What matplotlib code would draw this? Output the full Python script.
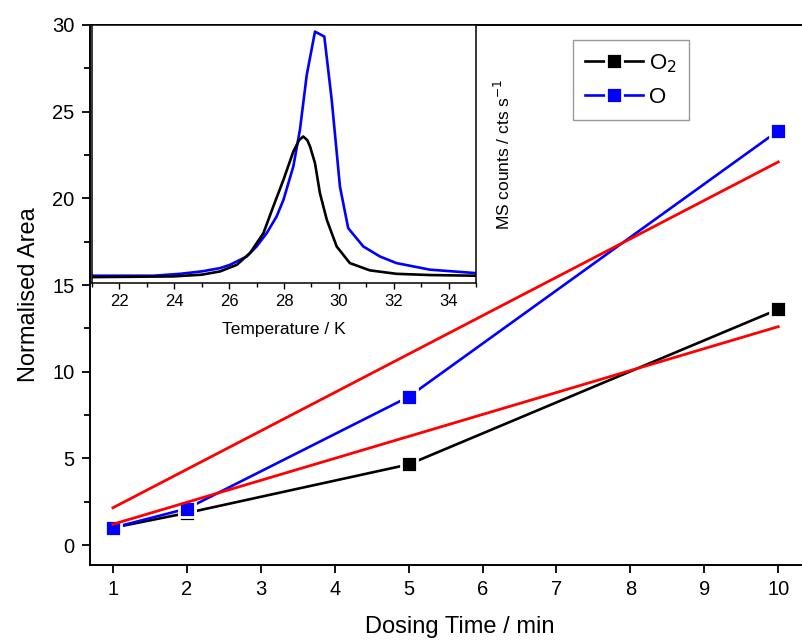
import matplotlib
matplotlib.use("Agg")
import matplotlib.pyplot as plt
from matplotlib.ticker import MultipleLocator, FixedLocator

plt.rcParams['font.family'] = ['Liberation Sans', 'DejaVu Sans']

# Main panel data
dose_time = [1, 2, 5, 10]
area_o2 = [1.0, 1.85, 4.65, 13.6]
area_o = [1.0, 2.1, 8.55, 23.9]
fit_x = [1, 10]
fit_o = [2.15, 22.1]
fit_o2 = [1.2, 12.6]
x_ticks = [1, 2, 3, 4, 5, 6, 7, 8, 9, 10]

# Inset data (TPD traces)
temp_o = [21.0, 23.24, 24.21, 25.0, 25.67, 26.03, 26.64, 27.0, 27.37, 27.73,
          27.98, 28.34, 28.58, 28.83, 29.13, 29.47, 29.74, 30.04, 30.34, 30.89,
          31.5, 32.1, 33.32, 35.0]
counts_o = [15.52, 15.52, 15.63, 15.77, 15.96, 16.15, 16.63, 17.21, 17.98, 18.94,
            19.9, 21.83, 23.94, 27.12, 29.62, 29.33, 25.67, 20.67, 18.27, 17.21,
            16.63, 16.25, 15.87, 15.67]
temp_o2 = [21.0, 23.97, 25.0, 25.67, 26.28, 26.76, 27.25, 27.61, 27.98, 28.34,
           28.55, 28.70, 28.85, 28.95, 29.13, 29.31, 29.56, 29.92, 30.4, 31.13,
           32.1, 33.32, 35.0]
counts_o2 = [15.44, 15.48, 15.58, 15.77, 16.15, 16.83, 17.98, 19.52, 21.06, 22.69,
             23.35, 23.56, 23.35, 22.98, 22.02, 20.29, 18.75, 17.21, 16.25, 15.83,
             15.63, 15.56, 15.52]

W, H = 803, 643
fig = plt.figure(figsize=(W / 100, H / 100), dpi=100)

# main axes in pixel coordinates
L, R, T, B = 90, 830, 25, 565
ax = fig.add_axes([L / W, 1 - B / H, (R - L) / W, (B - T) / H])
ax.set_xlim(0.69, 10.70)
ax.set_ylim(-1.15, 30)

line_kw = dict(lw=1.9, marker='s', ms=11, mec='white', mew=2.0, clip_on=False)
ax.plot(dose_time, area_o2, color='black', mfc='black', label='O$_2$', zorder=3, **line_kw)
ax.plot(dose_time, area_o, color='#0000ff', mfc='#0000ff', label='O', zorder=3, **line_kw)
ax.plot(fit_x, fit_o, color='#ff0000', lw=2.0, zorder=4)
ax.plot(fit_x, fit_o2, color='#ff0000', lw=2.0, zorder=4)

ax.xaxis.set_major_locator(FixedLocator(x_ticks))
ax.yaxis.set_major_locator(MultipleLocator(5))
ax.yaxis.set_minor_locator(MultipleLocator(2.5))
ax.tick_params(axis='both', which='major', direction='out', length=6, width=1.3,
               labelsize=14.5, pad=5)
ax.tick_params(axis='y', which='minor', direction='out', length=4, width=1.3)
for s in ['left', 'bottom', 'top', 'right']:
    ax.spines[s].set_linewidth(1.4)
ax.set_xlabel('Dosing Time / min', fontsize=17, labelpad=12)
ax.set_ylabel('Normalised Area', fontsize=17, labelpad=9)

leg = fig.legend(loc='upper left', bbox_to_anchor=(573 / W, 1 - 40 / H),
                 fontsize=16, frameon=True, fancybox=False, edgecolor='#808080',
                 handlelength=2.6, handletextpad=0.25, borderpad=0.55,
                 labelspacing=0.55, borderaxespad=0)
leg.get_frame().set_linewidth(1.0)

# inset
iL, iR, iT, iB = 92, 476, 25, 283
axi = fig.add_axes([iL / W, 1 - iB / H, (iR - iL) / W, (iB - iT) / H])
axi.set_facecolor('white')
axi.plot(temp_o, counts_o, color='#0000ff', lw=1.9)
axi.plot(temp_o2, counts_o2, color='black', lw=1.9)
axi.set_xlim(21, 35)
axi.set_ylim(15.1, 30)
axi.xaxis.set_major_locator(MultipleLocator(2))
axi.xaxis.set_minor_locator(MultipleLocator(1))
axi.set_yticks([])
axi.tick_params(axis='x', which='major', direction='out', length=4, width=1.0,
                labelsize=12, pad=4)
axi.tick_params(axis='x', which='minor', direction='out', length=3, width=1.0)
for s in ['left', 'bottom', 'top', 'right']:
    axi.spines[s].set_linewidth(1.1)
axi.set_xlabel('Temperature / K', fontsize=12.5, labelpad=9)
axi.yaxis.set_label_position('right')
axi.set_ylabel('MS counts / cts s$^{-1}$', fontsize=12.5, labelpad=12)

fig.savefig('out.png', dpi=100)
